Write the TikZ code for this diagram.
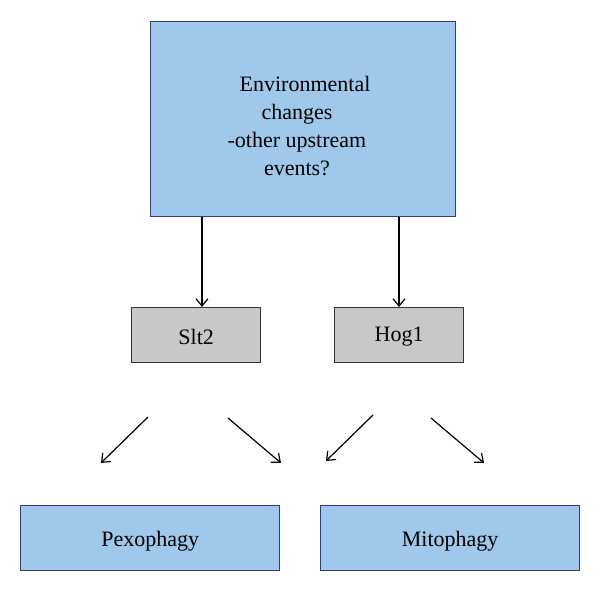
\documentclass[tikz,border=0pt]{standalone}
\usepackage{fontspec}
\setmainfont{Liberation Serif}
\usetikzlibrary{arrows.meta}
\definecolor{boxblue}{HTML}{A0C8EA}
\definecolor{boxedge}{HTML}{2E3A86}
\definecolor{boxgray}{HTML}{C8C8C8}
\begin{document}
\begin{tikzpicture}[x=0.75pt,y=-0.75pt,
  bluebox/.style={draw=boxedge,fill=boxblue,line width=1pt,inner sep=0pt,anchor=north west},
  graybox/.style={draw=black!80,fill=boxgray,line width=1pt,inner sep=0pt,anchor=north west},
  arr/.style={line width=0.9pt,-{Straight Barb[length=5.5pt,width=9pt]}},
  lbl/.style={font=\fontsize{16.5}{21}\selectfont}]
\useasboundingbox (0,0) rectangle (600,591);
\node[bluebox,minimum width=305*0.75pt,minimum height=195*0.75pt] (top) at (150,21) {};
\node[lbl,align=center] (toptext) at (297,126) {\hspace*{12pt}Environmental\\changes\\-other upstream\\events?};
\node[graybox,minimum width=129*0.75pt,minimum height=55*0.75pt] (slt) at (131,307) {};
\node[lbl] at ([yshift=-1pt]slt.center) {Slt2};
\node[graybox,minimum width=129*0.75pt,minimum height=55*0.75pt] (hog) at (334,307) {};
\node[lbl] at ([yshift=-1pt]hog.center) {Hog1};
\node[bluebox,minimum width=259*0.75pt,minimum height=65*0.75pt] (pex) at (20,505) {};
\node[lbl] at ([yshift=-2.5pt]pex.center) {Pexophagy};
\node[bluebox,minimum width=259*0.75pt,minimum height=65*0.75pt] (mito) at (320,505) {};
\node[lbl] at ([yshift=-2.5pt]mito.center) {Mitophagy};
\draw[arr] (top.south -| 202,0) -- (slt.north -| 202,0);
\draw[arr] (top.south -| 399,0) -- (hog.north -| 399,0);
\coordinate (a1s) at (148,417); \coordinate (a1e) at (101,463);
\coordinate (a2s) at (228,418); \coordinate (a2e) at (281,463);
\coordinate (a3s) at (373,415); \coordinate (a3e) at (326,461);
\coordinate (a4s) at (431,418); \coordinate (a4e) at (484,463);
\draw[arr] (a1s) -- (a1e);
\draw[arr] (a2s) -- (a2e);
\draw[arr] (a3s) -- (a3e);
\draw[arr] (a4s) -- (a4e);
\end{tikzpicture}
\end{document}
